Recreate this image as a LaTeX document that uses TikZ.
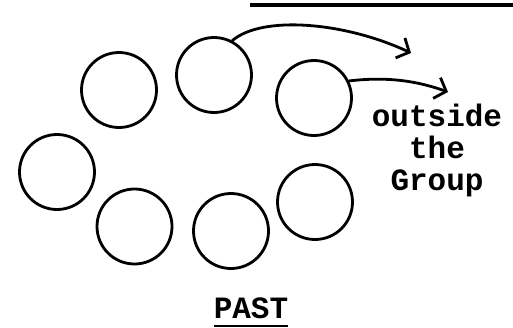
\documentclass[tikz,border=0pt]{standalone}
\usepackage{fontspec}
\setmonofont{Liberation Mono}
\usetikzlibrary{arrows.meta}
\tikzset{
  person/.style={draw, circle, line width=2.8pt, minimum size=75pt, inner sep=0pt},
  ink/.style={line width=2.8pt, line cap=round},
  outarrow/.style={ink, -{Straight Barb[length=10pt, width=22pt, line width=2.8pt]}},
  label/.style={font=\ttfamily\bfseries\fontsize{31}{32}\selectfont, inner sep=0pt, align=center}
}
\begin{document}
\begin{tikzpicture}[x=1pt, y=-1pt]
\useasboundingbox (0,0) rectangle (513,327);
\node[person] (c1) at (119,90) {};
\node[person] (c2) at (214,75) {};
\node[person] (c3) at (314,98) {};
\node[person] (c4) at (57,172) {};
\node[person] (c5) at (134.5,226.5) {};
\node[person] (c6) at (231,231) {};
\node[person] (c7) at (315,202) {};
\coordinate (t1) at (411,53);
\coordinate (t2) at (448,92);
\draw[outarrow] (c2.62) .. controls (262,15) and (345,22) .. (t1);
\draw[outarrow] (c3.26) .. controls (390,76) and (420,82) .. (t2);
\node[label] (out) at (437,150) {outside\\the\\Group};
\node[label, anchor=base] (past) at (251,318) {PAST};
\draw[line width=1.2pt] ([yshift=-8pt]past.base west) -- ([yshift=-8pt]past.base east);
\coordinate (l1) at (250,5);
\coordinate (l2) at (513,5);
\draw[line width=4pt] (l1) -- (l2);
\end{tikzpicture}
\end{document}
